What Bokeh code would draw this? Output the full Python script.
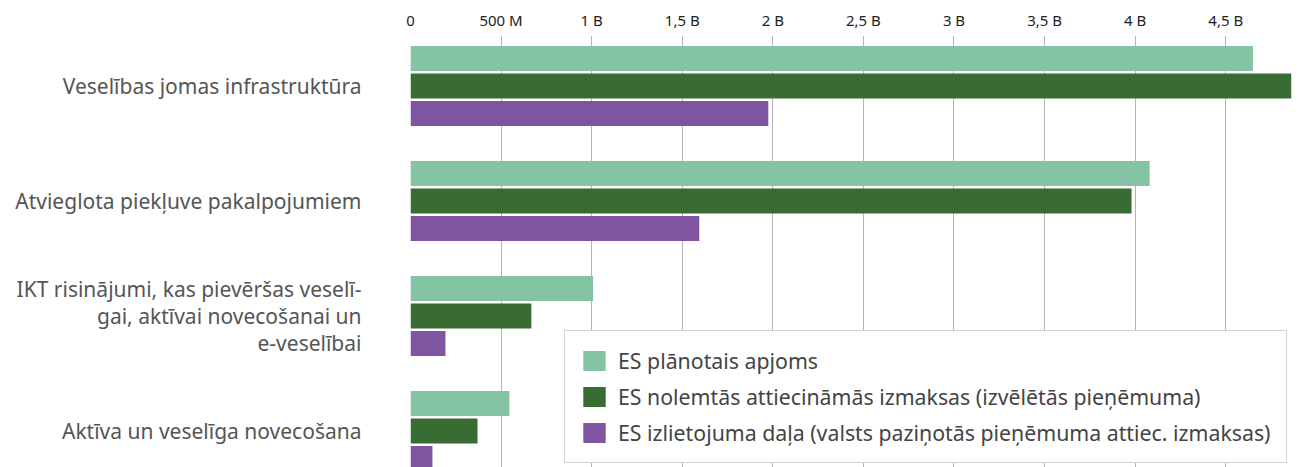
from bokeh.plotting import figure
from bokeh.models import Range1d, FixedTicker, ColumnDataSource
from bokeh.embed import file_html
from bokeh.resources import INLINE

categories = [
    "Veselības jomas infrastruktūra",
    "Atvieglota piekļuve pakalpojumiem",
    "IKT risinājumi, kas pievēršas veselī-\ngai, aktīvai novecošanai un\ne-veselībai",
    "Aktīva un veselīga novecošana",
]
series_names = [
    "ES plānotais apjoms",
    "ES nolemtās attiecināmās izmaksas (izvēlētās pieņēmuma)",
    "ES izlietojuma daļa (valsts paziņotās pieņēmuma attiec. izmaksas)",
]
planned = [4.65e9, 4.08e9, 1.008e9, 0.546e9]
decided = [4.87e9, 3.98e9, 0.667e9, 0.370e9]
spent = [1.975e9, 1.594e9, 0.193e9, 0.121e9]
x_tick_values = [0, 0.5e9, 1e9, 1.5e9, 2e9, 2.5e9, 3e9, 3.5e9, 4e9, 4.5e9]
x_tick_labels = ["0", "500 M", "1 B", "1,5 B", "2 B", "2,5 B", "3 B", "3,5 B", "4 B", "4,5 B"]

colors = ["#84C4A4", "#386C32", "#7F54A1"]
offsets = [-0.239, 0.0, 0.239]
FONT = "Noto Sans"

p = figure(width=1296, height=467, output_backend="svg", toolbar_location=None,
           x_range=Range1d(0, 4.863e9), y_range=Range1d(3.317, -0.439),
           x_axis_location="above", min_border_left=410, min_border_right=5,
           min_border_top=35, min_border_bottom=0)
p.outline_line_color = None
p.background_fill_color = "white"
p.border_fill_color = "white"

for vals, name, col, off in zip([planned, decided, spent], series_names, colors, offsets):
    src = ColumnDataSource(dict(y=[i + off for i in range(len(categories))], v=vals))
    p.hbar(y="y", right="v", left=0, height=0.217, source=src, fill_color=col,
           line_color=None, legend_label=name)

xa = p.xaxis[0]
xa.ticker = FixedTicker(ticks=x_tick_values)
xa.major_label_overrides = {v: l for v, l in zip(x_tick_values, x_tick_labels)}
xa.axis_line_color = None
xa.major_tick_line_color = None
xa.minor_tick_line_color = None
xa.major_label_standoff = 0
xa.major_label_text_font = FONT
xa.major_label_text_font_size = "15px"
xa.major_label_text_color = "#222222"

ya = p.yaxis[0]
ya.ticker = FixedTicker(ticks=list(range(len(categories))))
ya.major_label_overrides = {i: c for i, c in enumerate(categories)}
ya.axis_line_color = None
ya.major_tick_line_color = None
ya.minor_tick_line_color = None
ya.major_label_standoff = 43
ya.major_label_text_font = FONT
ya.major_label_text_font_size = "21px"
ya.major_label_text_color = "#555555"
ya.major_label_text_line_height = 0.98

p.xgrid.grid_line_color = "#b4b4b4"
p.xgrid.grid_line_width = 1
p.ygrid.grid_line_color = None

lg = p.legend[0]
lg.location = (154, 4)
lg.margin = 0
lg.padding = 15
lg.spacing = 7
lg.glyph_width = 28
lg.glyph_height = 25
lg.label_height = 25
lg.label_standoff = 10
lg.label_text_font = FONT
lg.label_text_font_size = "21.3px"
lg.label_text_color = "#444444"
lg.border_line_color = "#aaaaaa"
lg.border_line_width = 1.5
lg.background_fill_alpha = 1

open("out.html", "w").write(file_html(p, INLINE))
